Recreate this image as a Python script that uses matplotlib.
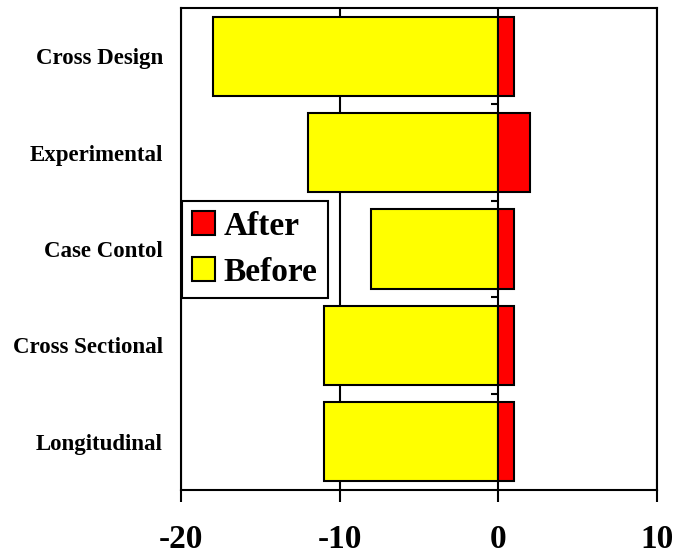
import matplotlib
matplotlib.use("Agg")
import matplotlib.pyplot as plt
from matplotlib.markers import TICKLEFT

plt.rcParams['font.family'] = ['Liberation Serif', 'DejaVu Serif']
plt.rcParams['font.weight'] = 'bold'

categorias = ["Cross Design", "Experimental", "Case Contol", "Cross Sectional", "Longitudinal"]
before = [-18, -12, -8, -11, -11]
after = [1, 2, 1, 1, 1]
xticks = [-20, -10, 0, 10]

fig = plt.figure(figsize=(6.76, 5.56), dpi=100)
ax = fig.add_axes([0.2678, 0.1187, 0.7041, 0.8669])

pos = list(range(len(categorias)))
ax.barh(pos, before, height=0.82, color='#ffff00', edgecolor='black', linewidth=1.5, label='Before', zorder=2)
ax.barh(pos, after, height=0.82, color='#ff0000', edgecolor='black', linewidth=1.5, label='After', zorder=2)

# pequenos ticks do eixo y em x=0, entre as categorias
limites = [p + 0.5 for p in pos[:-1]]
ax.plot([0] * len(limites), limites, ls='', marker=TICKLEFT, ms=5, mew=1.5, color='black', zorder=3)

ax.set_xlim(-20, 10)
ax.set_ylim(len(categorias) - 0.5, -0.5)
ax.set_xticks(xticks)
ax.set_xticklabels([str(v) for v in xticks], fontsize=24, fontweight='bold')
ax.set_yticks(pos)
ax.set_yticklabels(categorias, fontsize=16.5, fontweight='bold')
ax.tick_params(axis='y', length=0, pad=13)
ax.tick_params(axis='x', length=8.5, width=1.5, pad=16)

ax.xaxis.grid(True, color='black', linewidth=1.5)
ax.set_axisbelow(True)
for s in ax.spines.values():
    s.set_linewidth(1.5)

handles, labels = ax.get_legend_handles_labels()
leg = ax.legend(handles[::-1], labels[::-1], loc='upper left', bbox_to_anchor=(0.002, 0.6),
                prop={'size': 24, 'weight': 'bold'}, frameon=True, fancybox=False,
                framealpha=1, edgecolor='black', handlelength=0.7, handleheight=0.7,
                handletextpad=0.25, borderpad=0.3, labelspacing=0.45, borderaxespad=0)
leg.get_frame().set_linewidth(1.5)

fig.savefig("out.png", dpi=100)
